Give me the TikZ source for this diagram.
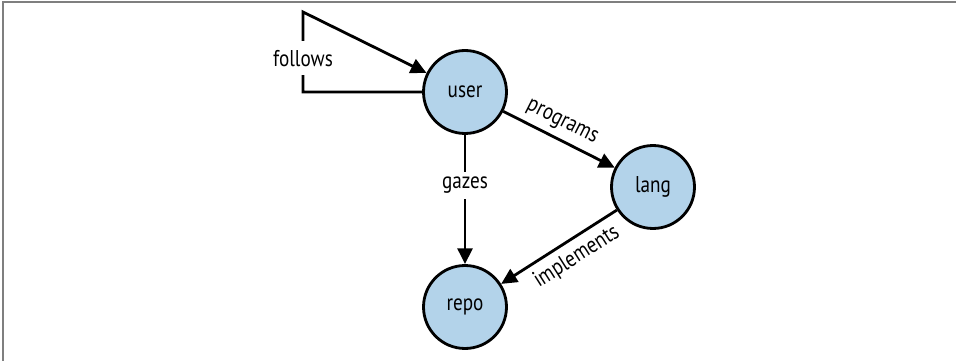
\documentclass[tikz,border=0pt]{standalone}
\usepackage{fontspec}
\setmainfont{PT Sans}[FakeStretch=0.84]
\usepackage{tikz}
\usetikzlibrary{arrows.meta,positioning}
\definecolor{nodefill}{HTML}{B3D3EA}
\definecolor{framegray}{HTML}{7F7F7F}

\begin{document}
\begin{tikzpicture}[x=0.02cm, y=-0.02cm, font=\fontsize{13}{15}\selectfont,
  entity/.style={circle, draw, line width=1.6pt, fill=nodefill, minimum size=1.66cm, inner sep=0pt},
  rel/.style={line width=1.6pt, -{Triangle[length=9pt,width=8.5pt]}},
  lbl/.style={fill=white, inner sep=3pt}]
\useasboundingbox (0,0) rectangle (956,361);
% frame (only top and left edges show)
\draw[framegray, line width=1.2pt] (3,361) -- (3,2) -- (956,2);
% the three entities
\node[entity] (user) at (465,92) {user};
\node[entity] (lang) at (653,187) {lang};
\node[entity] (repo) at (465,307) {repo};
% self loop corner
\coordinate (fcorner) at (303,12);
% relations
\draw[rel, line join=miter] (user.west) -| node[pos=0.71, lbl, inner sep=5pt] {follows} (fcorner) -- (user);
\draw[rel] (user) -- node[pos=0.46, above, sloped, inner sep=3.5pt] {programs} (lang);
\draw[rel] (user) -- node[pos=0.39, lbl] {gazes} (repo);
\draw[rel] (lang) -- node[pos=0.43, below, sloped, inner sep=3.5pt] {implements} (repo);
\end{tikzpicture}
\end{document}
